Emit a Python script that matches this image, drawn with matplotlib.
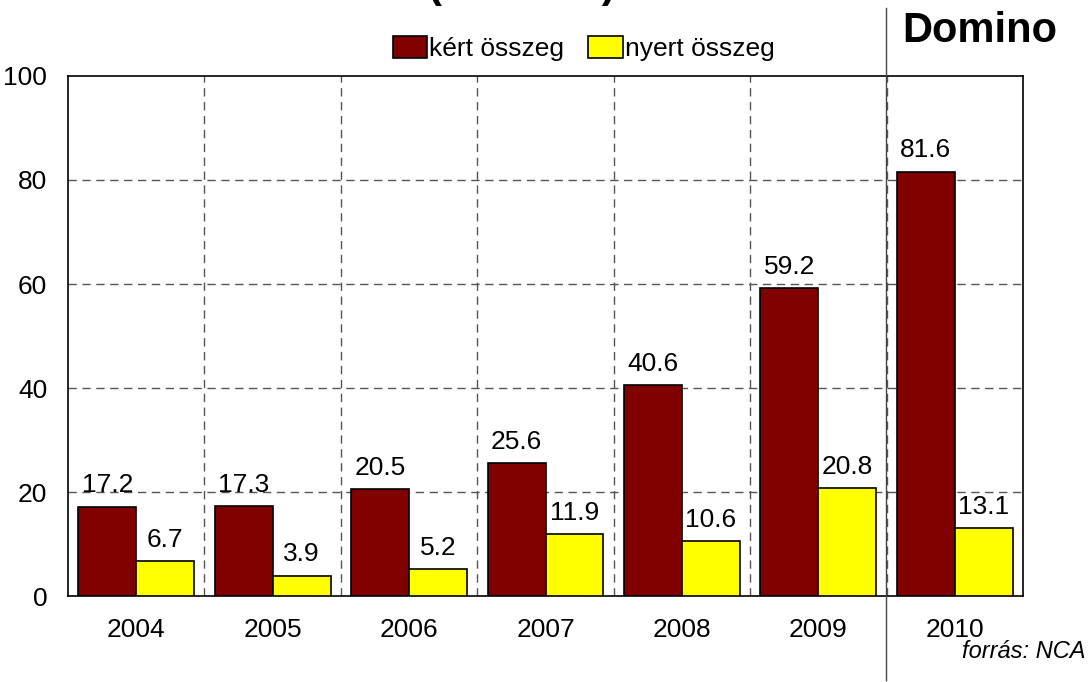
import numpy as np
import matplotlib
matplotlib.use("Agg")
import matplotlib.pyplot as plt
from matplotlib.font_manager import fontManager

names = {f.name for f in fontManager.ttflist}
fam = "Liberation Sans Narrow" if "Liberation Sans Narrow" in names else "Liberation Sans"
plt.rcParams['font.family'] = [fam, 'DejaVu Sans']

years = ['2004', '2005', '2006', '2007', '2008', '2009', '2010']
kert = [17.2, 17.3, 20.5, 25.6, 40.6, 59.2, 81.6]
nyert = [6.7, 3.9, 5.2, 11.9, 10.6, 20.8, 13.1]

fig = plt.figure(figsize=(10.92, 6.82), dpi=100)
ax = fig.add_axes([0.0623, 0.126, 0.8745, 0.7626])

x = np.arange(len(years))
w = 0.425
b1 = ax.bar(x - w / 2, kert, w, color='#800000', edgecolor='black', linewidth=1.2,
            label='kért összeg', zorder=3)
b2 = ax.bar(x + w / 2, nyert, w, color='#ffff00', edgecolor='black', linewidth=1.2,
            label='nyert összeg', zorder=3)

for rect, v in zip(list(b1) + list(b2), kert + nyert):
    ax.text(rect.get_x() + rect.get_width() / 2, v + 1.8, f'{v:.1f}',
            ha='center', va='bottom', fontsize=19, zorder=4)

ax.set_xlim(-0.5, len(years) - 0.5)
ax.set_ylim(0, 100)
ax.set_yticks(range(0, 101, 20))
ax.set_xticks(x)
ax.set_xticklabels(years)
ax.tick_params(length=0, labelsize=19)
ax.tick_params(axis='x', pad=16)
ax.tick_params(axis='y', pad=15)

# grid: horizontal at ticks, vertical at category boundaries
for yv in range(20, 100, 20):
    ax.axhline(yv, color='#555555', linestyle=(0, (6, 4)), linewidth=1, zorder=1)
for xv in np.arange(0.5, len(years) - 0.5, 1):
    ax.axvline(xv, color='#555555', linestyle=(0, (6, 4)), linewidth=1, zorder=1)
for s in ax.spines.values():
    s.set_linewidth(1.2)

ax.legend(loc='lower center', bbox_to_anchor=(0.54, 1.0), ncol=2, frameon=False,
          fontsize=19, handlelength=1.3, handleheight=0.9, handletextpad=0.1,
          columnspacing=0.9, borderaxespad=0.15)

# separator line for the Domino section
fig.add_artist(plt.Line2D([886 / 1092, 886 / 1092], [1 - 8 / 682, 1 - 680 / 682],
                          color='#444444', linewidth=1))
fig.text(980 / 1092, 1 - 31 / 682, 'Domino', ha='center', va='center',
         fontsize=30, fontweight='bold')
fig.text(0.478, 1.004, '(millió Ft)', ha='center', va='baseline',
         fontsize=30, fontweight='bold')
fig.text(1085 / 1092, 1 - 652 / 682, 'forrás: NCA', ha='right', va='center',
         fontsize=17, style='italic')

fig.savefig('out.png', dpi=100)
